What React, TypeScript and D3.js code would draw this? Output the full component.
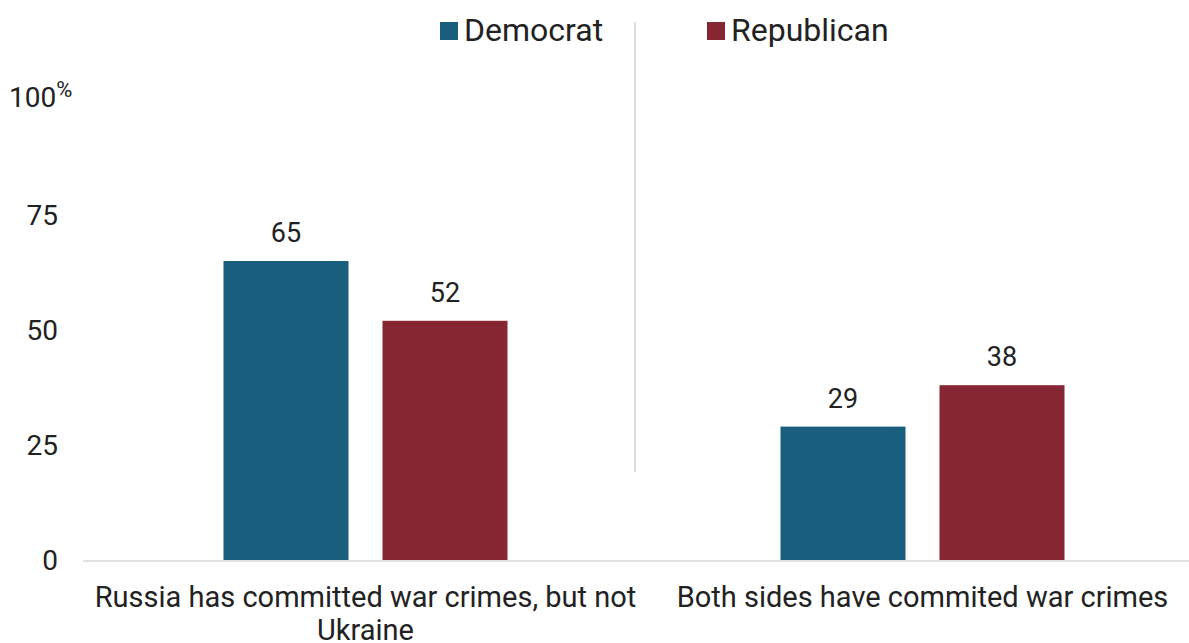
import React from "react";
import * as d3 from "d3";

const categories = ["Russia has committed war crimes, but not|Ukraine", "Both sides have commited war crimes"];
const series = ["Democrat", "Republican"];
const democrat = [65, 29];
const republican = [52, 38];
const yTicks = [0, 25, 50, 75, 100];
const colors = ["#1a5e7e", "#862633"];

export default function App() {
  const W = 1189, H = 643;
  const x0 = d3.scaleBand().domain(categories).range([87, 1201]).padding(0);
  const y = d3.scaleLinear().domain([0, 100]).range([560, 100]);
  const barW = 125;
  const gap = 34;
  const values = [democrat, republican];
  const font = "Roboto, sans-serif";
  return (
    <svg width={W} height={H} style={{ position: "absolute", left: 0, top: 0 }} fontFamily={font}>
      <rect width={W} height={H} fill="#fff" />
      {/* legend */}
      {series.map((s, i) => {
        const lx = i === 0 ? 440 : 707;
        return (
          <g key={s}>
            <rect x={lx} y={22} width={18} height={18} fill={colors[i]} />
            <text x={lx + 24} y={41} fontSize={32} fill="#222">{s}</text>
          </g>
        );
      })}
      {/* divider */}
      <line x1={635} x2={635} y1={22} y2={472} stroke="#dcdcdc" strokeWidth={2} />
      {/* y ticks */}
      {yTicks.map((t) => (
        <text key={t} x={t === 100 ? 9 : 58} y={t === 100 ? 107 : y(t) + 10} fontSize={28} fill="#222" textAnchor={t === 100 ? "start" : "end"}>
          {t}
          {t === 100 ? <tspan fontSize={22} dy={-10}>%</tspan> : null}
        </text>
      ))}
      {/* axis */}
      <line x1={83} x2={1189} y1={y(0) + 1} y2={y(0) + 1} stroke="#e0e0e0" strokeWidth={2} />
      {categories.map((c, ci) => {
        const cx = (x0(c) as number) + x0.bandwidth() / 2;
        const lines = c.split("|");
        return (
          <g key={c}>
            {values.map((v, si) => {
              const bx = cx - gap / 2 - barW + si * (barW + gap);
              return (
                <g key={si}>
                  <rect x={bx} y={y(v[ci])} width={barW} height={y(0) - y(v[ci])} fill={colors[si]} />
                  <text x={bx + barW / 2} y={y(v[ci]) - 19} fontSize={27} fill="#222" textAnchor="middle">{v[ci]}</text>
                </g>
              );
            })}
            <text x={cx} y={607} fontSize={29} fill="#222" textAnchor="middle">
              {lines.map((l, li) => (
                <tspan key={li} x={cx} dy={li === 0 ? 0 : 33}>{l}</tspan>
              ))}
            </text>
          </g>
        );
      })}
    </svg>
  );
}
